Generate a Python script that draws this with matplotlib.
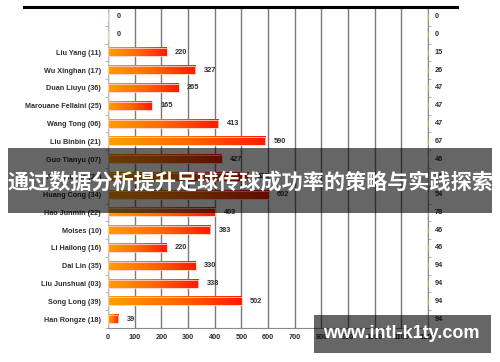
import numpy as np
import matplotlib
matplotlib.use("Agg")
import matplotlib.pyplot as plt
from matplotlib.colors import LinearSegmentedColormap
from matplotlib.patches import Rectangle
from matplotlib.lines import Line2D

# rows, top to bottom
players = ["", "", "Liu Yang (11)", "Wu Xinghan (17)", "Duan Liuyu (36)",
           "Marouane Fellaini (25)", "Wang Tong (06)", "Liu Binbin (21)",
           "Guo Tianyu (07)", "Yu Hanchao (27)", "Huang Cong (34)",
           "Hao Junmin (22)", "Moises (10)", "Li Hailong (16)", "Dai Lin (35)",
           "Liu Junshuai (03)", "Song Long (39)", "Han Rongze (18)"]
left_values = [0, 0, 220, 327, 265, 165, 413, 590, 427, 526, 602,
               403, 383, 220, 330, 338, 502, 39]
right_labels = ["0", "0", "15", "26", "47", "47", "47", "67", "46", "54", "54",
                "78", "46", "46", "94", "94", "94", "94"]
x_ticks = [0, 100, 200, 300, 400, 500, 600, 700, 800, 900, 1000, 1100, 1200]

plt.rcParams["font.family"] = ["Liberation Sans", "DejaVu Sans"]
label_color = "#2e2e2e"
grad = LinearSegmentedColormap.from_list("orred", ["#ff9f00", "#ff6a00", "#ff1a00"])

fig = plt.figure(figsize=(5, 3.62), dpi=100)
ax = fig.add_axes([0.216, 0.094, 0.64, 0.884])

y = np.arange(len(players))
bars = ax.barh(y, left_values, height=0.45, color="none",
               edgecolor="#ffd0c0", linewidth=0.6, zorder=3)

gradient = np.linspace(0, 1, 256).reshape(1, -1)
for b, v in zip(bars, left_values):
    if v <= 0:
        continue
    x0, y0 = b.get_x(), b.get_y()
    ax.imshow(gradient, cmap=grad, aspect="auto", zorder=2,
              extent=(x0, x0 + b.get_width(), y0 + b.get_height(), y0))

for i, v in enumerate(left_values):
    ax.annotate(str(v), (v, i), xytext=(6, 0), textcoords="offset points",
                va="center", ha="left", fontsize=5.3, fontweight="bold",
                color=label_color, zorder=4)

ax.set_xlim(0, 1200)
ax.set_ylim(len(players) - 0.5, -0.5)
ax.set_xticks(x_ticks)
ax.set_xticklabels([str(t) for t in x_ticks], fontsize=5.3,
                   fontweight="bold", color=label_color)
ax.set_yticks(y)
ax.set_yticklabels(players, fontsize=5.2, fontweight="bold", color=label_color)
ax.tick_params(axis="y", length=0, pad=5)
ax.tick_params(axis="x", length=0, pad=4)

# minor ticks at row borders
ax.set_yticks(np.arange(-0.5, len(players), 1), minor=True)
ax.tick_params(axis="y", which="minor", length=2.5, color="#aaaaaa",
               left=True, right=True)
ax.grid(axis="x", color="#7a7a7a", linewidth=1.0, zorder=1)
ax.set_axisbelow(True)

ax.spines["top"].set_visible(False)
ax.spines["left"].set_color("#bbbbbb")
ax.spines["right"].set_color("#8a8a8a")
ax.spines["bottom"].set_color("#8a8a8a")

# right-side labels with little green marks
for i, lab in enumerate(right_labels):
    ax.annotate(lab, (1, i), xycoords=("axes fraction", "data"),
                xytext=(5, 0), textcoords="offset points", va="center",
                ha="left", fontsize=5.3, fontweight="bold", color=label_color)
    ax.plot([1200, 1200], [i - 0.15, i + 0.15], color="#9bbb59",
            linewidth=0.8, clip_on=False, zorder=5)

# thick top rule
fig.add_artist(Line2D([24 / 500, 457 / 500], [1 - 7 / 362, 1 - 7 / 362],
                      color="black", linewidth=2.2))

# title banner
fig.add_artist(Rectangle((8 / 500, 1 - 213 / 362), 484 / 500, 65 / 362,
                         facecolor="black", alpha=0.6, edgecolor="none"))
fig.text(0.5, 1 - 182 / 362, "通过数据分析提升足球传球成功率的策略与实践探索",
         ha="center", va="center", color="white", fontsize=15.2,
         fontweight="bold", family=["Noto Sans CJK SC", "DejaVu Sans"])

# watermark
fig.add_artist(Rectangle((314 / 500, 1 - 353 / 362), 177 / 500, 38 / 362,
                         facecolor="black", alpha=0.6, edgecolor="none"))
fig.text(401 / 500, 1 - 334 / 362, "www.intl-k1ty.com", ha="center",
         va="center", color="white", fontsize=13, fontweight="bold",
         family=["Liberation Sans", "DejaVu Sans"])

fig.savefig("out.png", dpi=100)
